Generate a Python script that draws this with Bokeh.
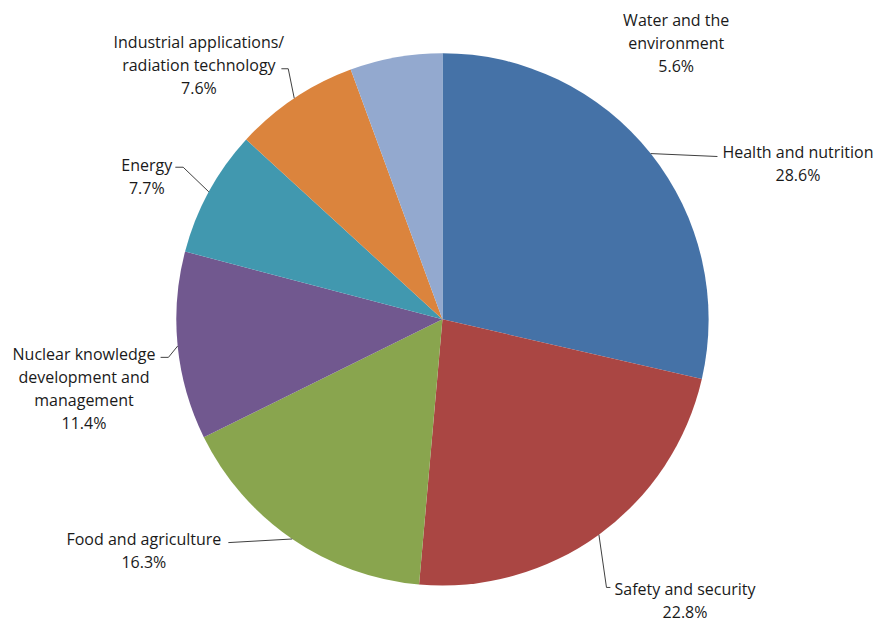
import numpy as np
from bokeh.plotting import figure
from bokeh.models import Range1d, ColumnDataSource
from bokeh.core.properties import value
from bokeh.embed import file_html
from bokeh.resources import INLINE

categories = ["Health and nutrition", "Safety and security", "Food and agriculture",
              "Nuclear knowledge development and management", "Energy",
              "Industrial applications/ radiation technology", "Water and the environment"]
shares = [28.6, 22.8, 16.3, 11.4, 7.7, 7.6, 5.6]
colors = ["#4572A7", "#AA4643", "#89A54E", "#71588F", "#4198AF", "#DB843D", "#93A9CF"]
label_lines = [
    ["Health and nutrition"],
    ["Safety and security"],
    ["Food and agriculture"],
    ["Nuclear knowledge", "development and", "management"],
    ["Energy"],
    ["Industrial applications/", "radiation technology"],
    ["Water and the", "environment"],
]

W, H = 879, 624          # figure size in pixels
VW, VH = 895, 640        # virtual layout space (reference picture size)
FONT = "Open Sans"
FS = "16px"
sx, sy = W / VW, H / VH

def px(x):
    return x

def py(y):
    return VH - y

p = figure(width=W, height=H, output_backend="svg", toolbar_location=None,
           x_range=Range1d(0, VW), y_range=Range1d(0, VH), min_border=0)
p.axis.visible = False
p.grid.visible = False
p.outline_line_color = None
p.background_fill_color = "white"

cx, cy, R = px(450), py(327), 271
Ry = R * sx / sy
vals = np.array(shares)
frac = vals / vals.sum()
cum_end = np.cumsum(frac)
cum_start = cum_end - frac
start_angle = np.pi / 2 - 2 * np.pi * cum_end
end_angle = np.pi / 2 - 2 * np.pi * cum_start
mid = np.pi / 2 - 2 * np.pi * (cum_start + frac / 2)

src = ColumnDataSource(dict(start=start_angle, end=end_angle, color=colors, cat=categories))
p.wedge(x=cx, y=cy, radius=R, start_angle="start", end_angle="end",
        fill_color="color", line_color=None, source=src)

# label layout (reference coordinates): center x, first line y
label_pos = [(812, 155), (697, 604), (146, 552), (85, 363), (149, 169), (202, 43), (688, 20)]
# leader line waypoints after the edge point
leader_pts = [
    [(730, 160)],
    [(617, 602), (621, 602)],
    [(232, 556)],
    [(171, 366), (163, 366)],
    [(186, 171), (178, 171)],
    [(293, 70), (286, 70)],
    None,
]

for i in range(len(categories)):
    if leader_pts[i] is not None:
        ex = cx + R * np.cos(mid[i])
        ey = cy + Ry * np.sin(mid[i])
        xs = [ex] + [px(a) for a, b in leader_pts[i]]
        ys = [ey] + [py(b) for a, b in leader_pts[i]]
        p.line(xs, ys, line_color="#404040", line_width=1)
    lines = label_lines[i] + ["%.1f%%" % shares[i]]
    lx, ly = label_pos[i]
    for k, t in enumerate(lines):
        p.text(x=[px(lx)], y=[py(ly + 23.5 * k)], text=[t], text_align="center",
               text_baseline="middle", text_font=value(FONT), text_font_size=FS,
               text_color="#1a1a1a")

open("out.html", "w").write(file_html(p, INLINE))
